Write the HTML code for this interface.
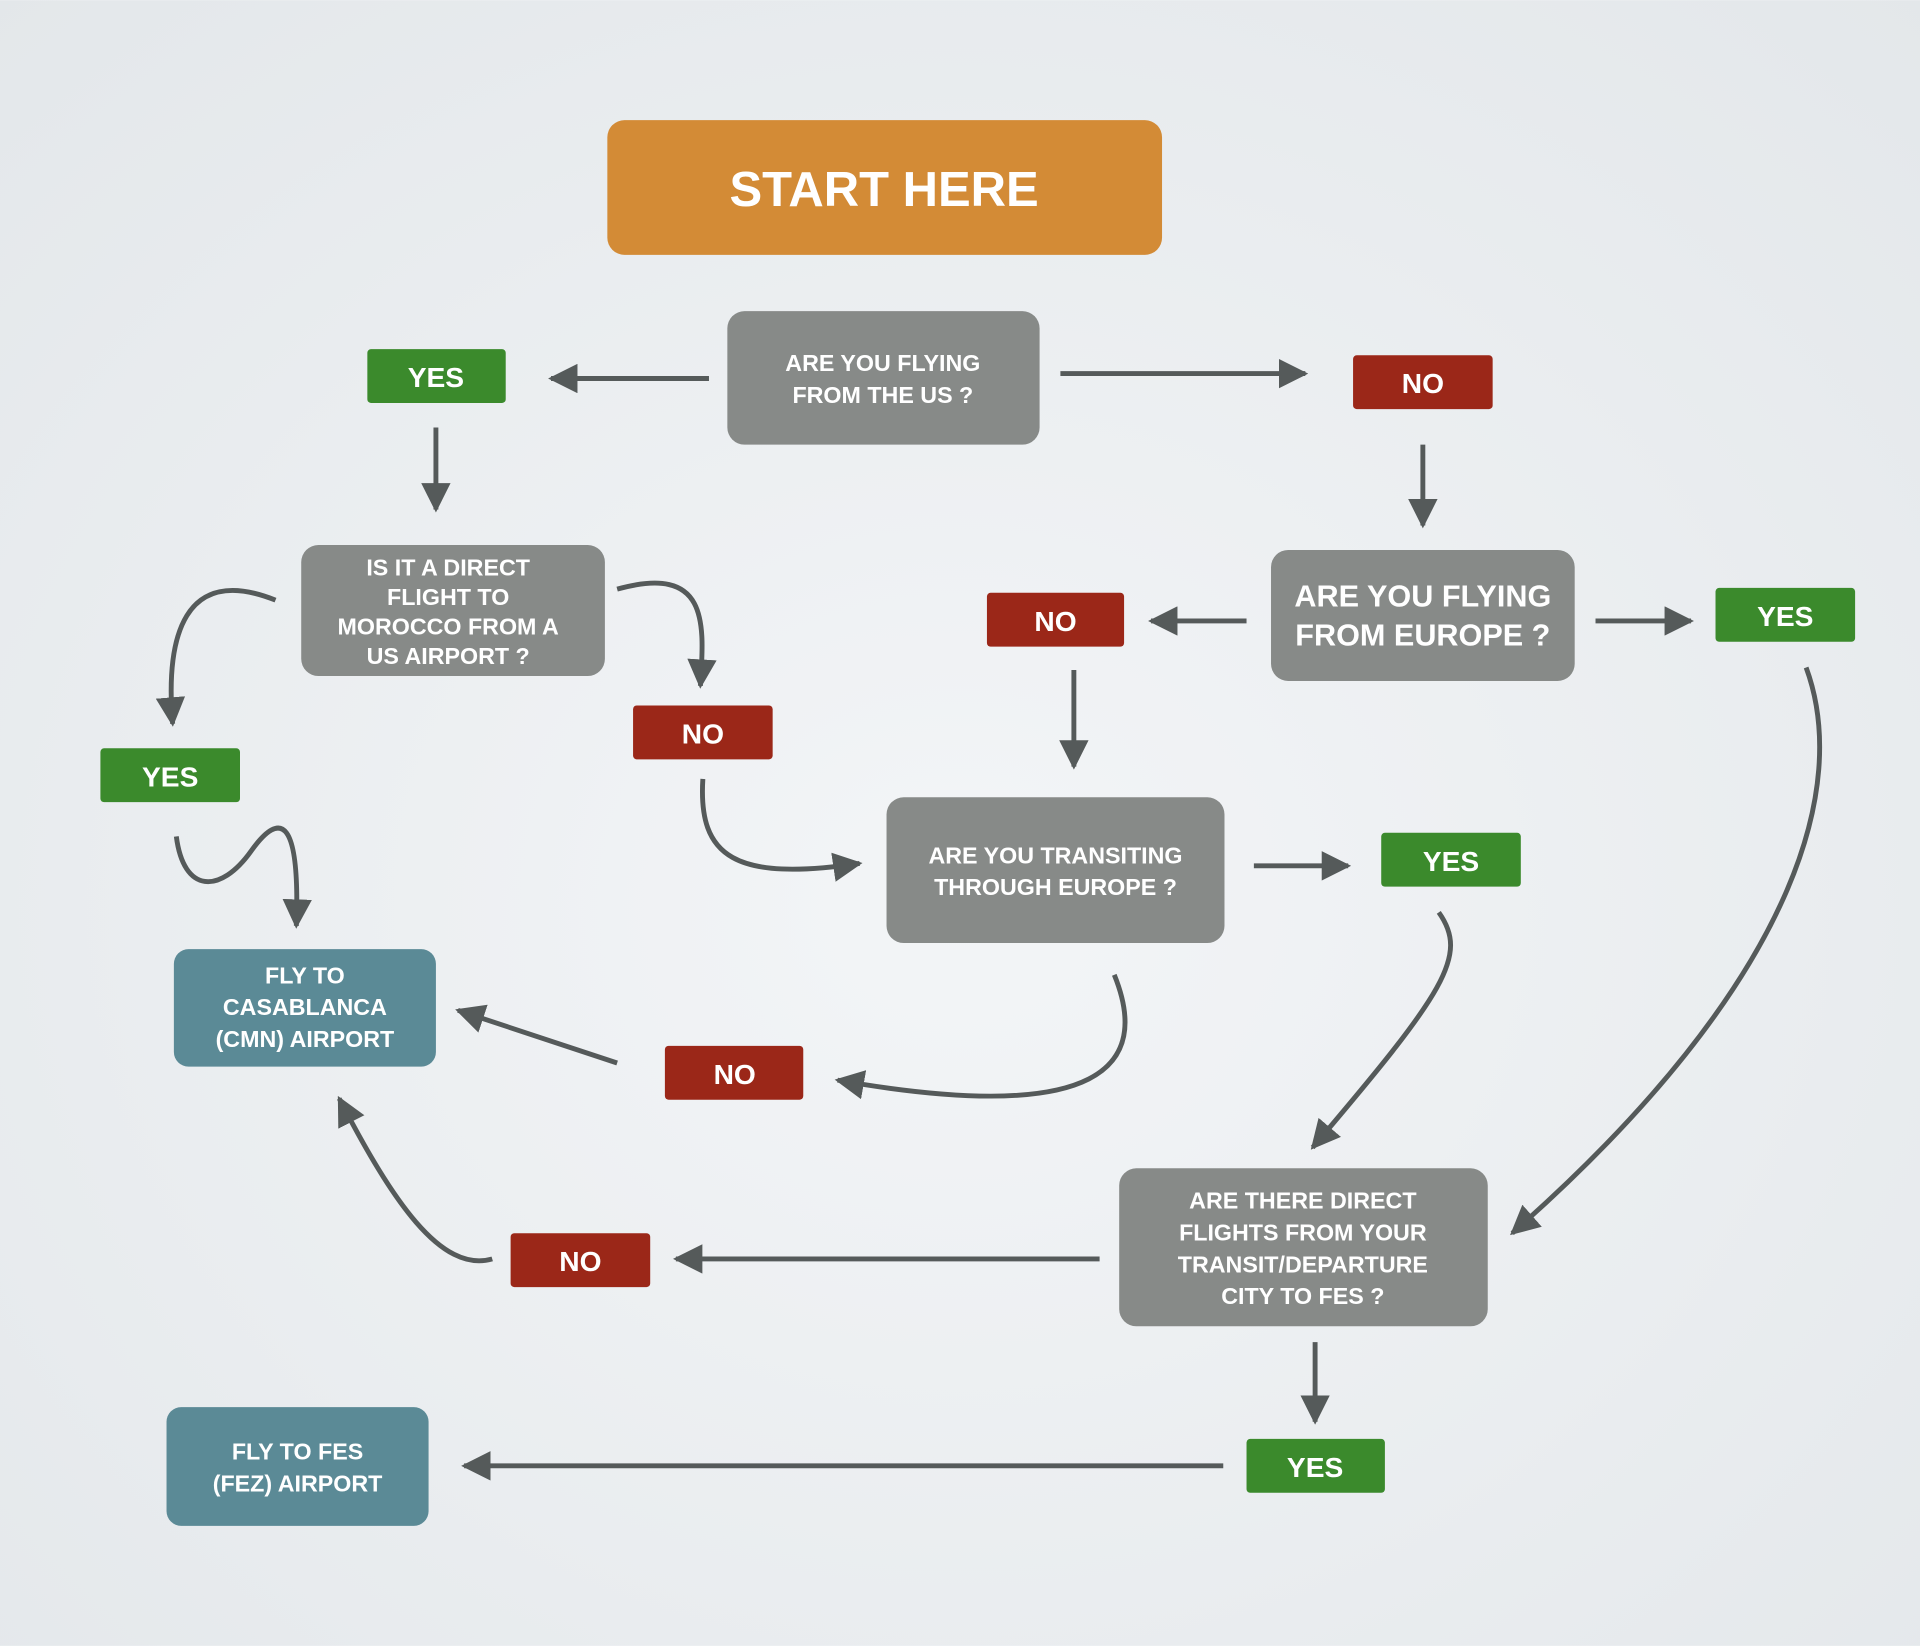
<!DOCTYPE html>
<html><head><meta charset="utf-8"><style>
html,body{margin:0;padding:0;width:1920px;height:1646px;overflow:hidden}
svg{display:block}
text{font-family:"Liberation Sans",sans-serif;fill:#fff;text-anchor:middle;font-weight:bold}
</style></head><body>
<svg width="1920" height="1646" viewBox="0 0 1568 1344" xmlns="http://www.w3.org/2000/svg">
<defs>
<radialGradient id="bg" cx="50%" cy="55%" r="75%">
<stop offset="0" stop-color="#f3f5f7"/><stop offset="1" stop-color="#e3e7ea"/>
</radialGradient>
<marker id="a" viewBox="0 0 10 10" refX="9" refY="5" markerWidth="6" markerHeight="6" markerUnits="strokeWidth" orient="auto">
<path d="M0,0 L10,5 L0,10 z" fill="#555a5a"/></marker>
</defs>
<rect width="1568" height="1344" fill="url(#bg)"/>
<g fill="none" stroke="#555a5a" stroke-width="4" marker-end="url(#a)">
<path d="M579,309 L450,309"/>
<path d="M866,305 L1066,305"/>
<path d="M356,349 L356,416"/>
<path d="M1162,363 L1162,429"/>
<path d="M1018,507 L940,507"/>
<path d="M1303,507 L1381,507"/>
<path d="M877,547 L877,626"/>
<path d="M225,490 C150,460 135,520 141,591"/>
<path d="M504,481 C580,460 575,510 572,560"/>
<path d="M574,636 C570,700 600,720 702,705"/>
<path d="M144,683 C150,730 180,730 205,695 C230,660 245,670 242,756"/>
<path d="M1024,707 L1101,707"/>
<path d="M1175,745 C1200,780 1180,810 1072,937"/>
<path d="M1475,545 C1510,640 1470,800 1235,1007"/>
<path d="M910,796 C940,870 900,920 684,882"/>
<path d="M504,868 L374,825"/>
<path d="M898,1028 L552,1028"/>
<path d="M402,1028 C360,1040 320,980 277,897"/>
<path d="M1074,1096 L1074,1161"/>
<path d="M999,1197 L379,1197"/>
</g>
<rect x="496" y="98" width="453" height="110" rx="14" fill="#d38b36"/>
<text x="722" y="168" font-size="40">START HERE</text>
<g fill="#878a88">
<rect x="594" y="254" width="255" height="109" rx="14"/>
<rect x="246" y="445" width="248" height="107" rx="14"/>
<rect x="1038" y="449" width="248" height="107" rx="14"/>
<rect x="724" y="651" width="276" height="119" rx="14"/>
<rect x="914" y="954" width="301" height="129" rx="14"/>
</g>
<g fill="#5b8a96">
<rect x="142" y="775" width="214" height="96" rx="12"/>
<rect x="136" y="1149" width="214" height="97" rx="12"/>
</g>
<g fill="#3b8a2c">
<rect x="300" y="285" width="113" height="44" rx="3"/>
<rect x="1401" y="480" width="114" height="44" rx="3"/>
<rect x="82" y="611" width="114" height="44" rx="3"/>
<rect x="1128" y="680" width="114" height="44" rx="3"/>
<rect x="1018" y="1175" width="113" height="44" rx="3"/>
</g>
<g fill="#9b2718">
<rect x="1105" y="290" width="114" height="44" rx="3"/>
<rect x="806" y="484" width="112" height="44" rx="3"/>
<rect x="517" y="576" width="114" height="44" rx="3"/>
<rect x="543" y="854" width="113" height="44" rx="3"/>
<rect x="417" y="1007" width="114" height="44" rx="3"/>
</g>
<g font-size="23">
<text x="356" y="316">YES</text>
<text x="1458" y="511">YES</text>
<text x="139" y="642">YES</text>
<text x="1185" y="711">YES</text>
<text x="1074" y="1206">YES</text>
<text x="1162" y="321">NO</text>
<text x="862" y="515">NO</text>
<text x="574" y="607">NO</text>
<text x="600" y="885">NO</text>
<text x="474" y="1038">NO</text>
</g>
<g font-size="19">
<text x="721" y="303">ARE YOU FLYING</text>
<text x="721" y="329">FROM THE US ?</text>
<text x="366" y="470">IS IT A DIRECT</text>
<text x="366" y="494">FLIGHT TO</text>
<text x="366" y="518">MOROCCO FROM A</text>
<text x="366" y="542">US AIRPORT ?</text>
<text x="862" y="705">ARE YOU TRANSITING</text>
<text x="862" y="731">THROUGH EUROPE ?</text>
<text x="1064" y="987">ARE THERE DIRECT</text>
<text x="1064" y="1013">FLIGHTS FROM YOUR</text>
<text x="1064" y="1039">TRANSIT/DEPARTURE</text>
<text x="1064" y="1065">CITY TO FES ?</text>
<text x="249" y="803">FLY TO</text>
<text x="249" y="829">CASABLANCA</text>
<text x="249" y="855">(CMN) AIRPORT</text>
<text x="243" y="1192">FLY TO FES</text>
<text x="243" y="1218">(FEZ) AIRPORT</text>
</g>
<g font-size="25">
<text x="1162" y="495">ARE YOU FLYING</text>
<text x="1162" y="527">FROM EUROPE ?</text>
</g>
</svg>
</body></html>
